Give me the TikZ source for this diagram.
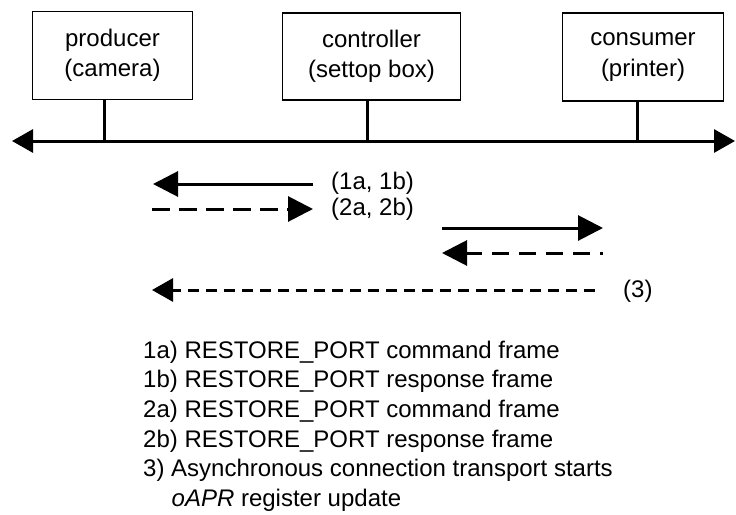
\documentclass[tikz,border=0pt]{standalone}
\usepackage{fontspec}
\setmainfont{Liberation Sans}
\usetikzlibrary{arrows.meta}

\tikzset{
  unit/.style={draw, line width=1.5pt, align=center, inner sep=0pt,
               font=\fontsize{24}{30.5}\selectfont},
  wire/.style={line width=3pt},
  bustip/.style={{Triangle[length=21pt,width=23pt]}-{Triangle[length=21pt,width=23pt]}},
  bigtip/.style={-{Triangle[length=25pt,width=25pt]}},
  smalltip/.style={-{Triangle[length=21pt,width=23pt]}},
  msg/.style={line width=3pt},
  lbl/.style={anchor=base west, inner sep=0pt, font=\fontsize{24}{29}\selectfont},
}

\begin{document}
\begin{tikzpicture}[x=1pt,y=-1pt]
  \useasboundingbox (0,0) rectangle (736,514);

  % devices
  \node[unit, minimum width=160pt, minimum height=88pt] (prod) at (112.5,55.5) {producer\\(camera)};
  \node[unit, minimum width=178pt, minimum height=87pt] (ctrl) at (371.5,56.5) {controller\\(settop box)};
  \node[unit, minimum width=161pt, minimum height=88pt] (cons) at (643,57) {consumer\\(printer)};

  % bus and its taps
  \coordinate (busL) at (12,141);
  \coordinate (busR) at (735,141);
  \draw[wire, bustip] (busL) -- (busR);
  \coordinate (tp) at (104,141);
  \coordinate (tc) at (367,141);
  \coordinate (tn) at (637,141);
  \draw[wire] (prod.south -| tp) -- (tp);
  \draw[wire] (ctrl.south -| tc) -- (tc);
  \draw[wire] (cons.south -| tn) -- (tn);

  % transactions
  \coordinate (a1s) at (313,184);
  \coordinate (a1e) at (153,184);
  \draw[msg, bigtip] (a1s) -- (a1e);

  \coordinate (a2s) at (152,209);
  \coordinate (a2e) at (313,209);
  \draw[msg, bigtip, dash pattern=on 18pt off 9pt] (a2s) -- (a2e);

  \coordinate (a3s) at (442,228);
  \coordinate (a3e) at (603,228);
  \draw[msg, bigtip] (a3s) -- (a3e);

  \coordinate (a4s) at (603,253);
  \coordinate (a4e) at (442,253);
  \draw[msg, bigtip, dash pattern=on 17pt off 10pt, dash phase=14pt] (a4s) -- (a4e);

  \coordinate (a5s) at (595,290);
  \coordinate (a5e) at (152,290);
  \draw[msg, smalltip, dash pattern=on 11pt off 7pt] (a5s) -- (a5e);

  % step labels
  \node[lbl] (l1) at (331,189) {(1a, 1b)};
  \node[lbl] (l2) at (331,215) {(2a, 2b)};
  \node[lbl] (l3) at (623,297) {(3)};

  % legend
  \node[lbl] (k1) at (143,358) {1a) RESTORE\_PORT command frame};
  \node[lbl] (k2) at (143,387.7) {1b) RESTORE\_PORT response frame};
  \node[lbl] (k3) at (143,417.4) {2a) RESTORE\_PORT command frame};
  \node[lbl] (k4) at (143,447.1) {2b) RESTORE\_PORT response frame};
  \node[lbl] (k5) at (143,476.8) {3) Asynchronous connection transport starts};
  \node[lbl] (k6) at (171.5,506.5) {\itshape oAPR\/\upshape{} register update};
\end{tikzpicture}
\end{document}
